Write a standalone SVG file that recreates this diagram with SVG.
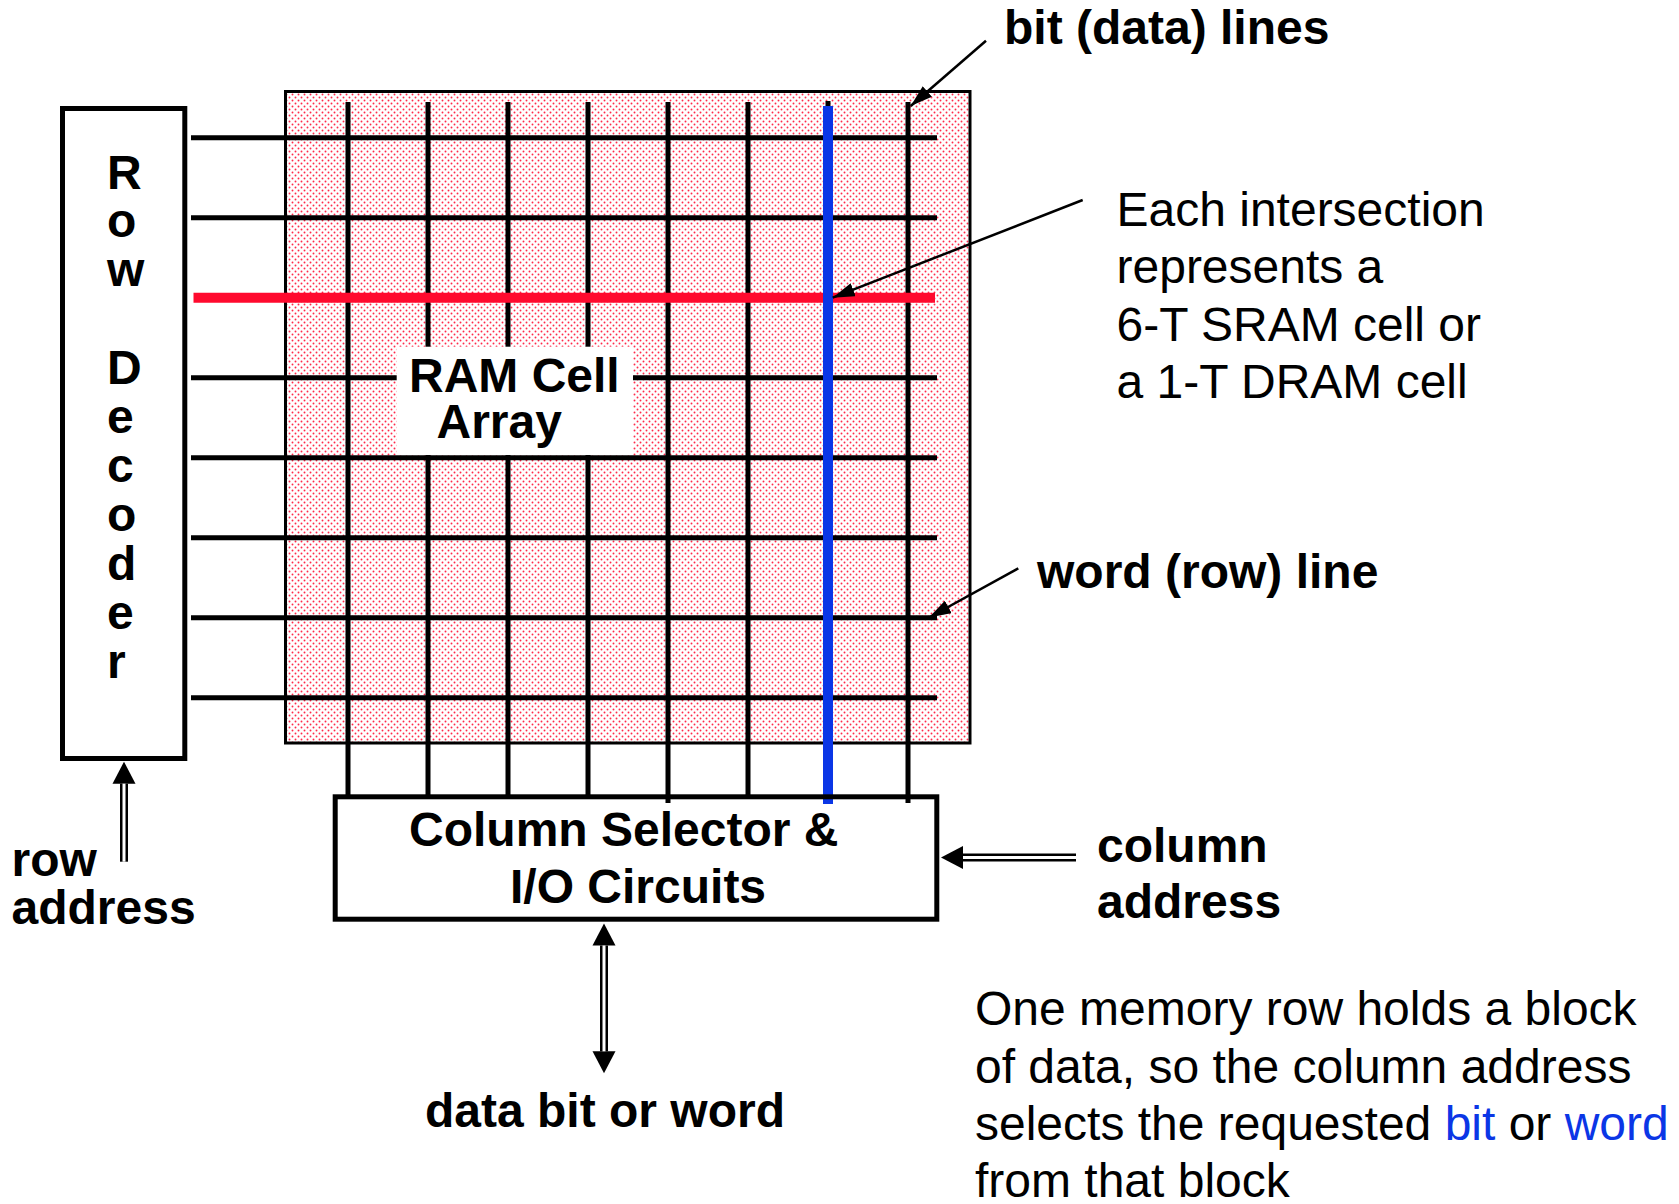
<svg xmlns="http://www.w3.org/2000/svg" width="1679" height="1204" viewBox="0 0 1679 1204">
  <style>
    .bold { font-family: "Liberation Sans", Arial, sans-serif; font-weight: bold; font-size: 48px; fill: #000; }
    .reg { font-family: "Liberation Sans", Arial, sans-serif; font-size: 48px; fill: #000; }
    .blue { fill: #0b36e6; }
    .box { fill: #fff; stroke: #000; stroke-width: 5; }
    .wline { stroke: #000; stroke-width: 5; fill: none; }
    .bline { stroke: #000; stroke-width: 5; fill: none; }
    .callout { stroke: #000; stroke-width: 2.5; fill: none; marker-end: url(#tip); }
    .shaft { stroke: #000; stroke-width: 8; fill: none; }
    .shaft-in { stroke: #fff; stroke-width: 3; fill: none; }
  </style>
  <defs>
    <!-- fine red dot screen used for the cell array background -->
    <pattern id="dots" width="6" height="6" patternUnits="userSpaceOnUse">
      <rect width="6" height="6" fill="#fff"/>
      <circle cx="1.5" cy="1.5" r="0.95" fill="#ff2a4a"/>
      <circle cx="4.5" cy="4.5" r="0.95" fill="#ff2a4a"/>
    </pattern>
    <marker id="tip" markerUnits="userSpaceOnUse" markerWidth="24" markerHeight="14" refX="22" refY="7" orient="auto">
      <path d="M0,0 L22,7 L0,14 z" fill="#000"/>
    </marker>
    <marker id="head" markerUnits="userSpaceOnUse" markerWidth="23" markerHeight="24" refX="0" refY="12" orient="auto-start-reverse">
      <path d="M0,0.5 L22,12 L0,23.5 z" fill="#000"/>
    </marker>
  </defs>

  <!-- cell array background -->
  <g id="cell-array">
    <rect x="285.5" y="91.5" width="684.5" height="651.5" fill="url(#dots)" stroke="#000" stroke-width="3"/>
  </g>

  <g id="connectors">
    <!-- word (row) lines -->
    <g id="word-lines">
      <line class="wline" x1="191" y1="137.7" x2="937" y2="137.7"/>
      <line class="wline" x1="191" y1="217.7" x2="937" y2="217.7"/>
      <line class="wline" x1="191" y1="377.7" x2="937" y2="377.7"/>
      <line class="wline" x1="191" y1="457.7" x2="937" y2="457.7"/>
      <line class="wline" x1="191" y1="537.7" x2="937" y2="537.7"/>
      <line class="wline" x1="191" y1="617.7" x2="937" y2="617.7"/>
      <line class="wline" x1="191" y1="697.7" x2="937" y2="697.7"/>
    </g>
    <!-- bit (data) lines -->
    <g id="bit-lines">
      <line class="bline" x1="348" y1="102" x2="348" y2="796"/>
      <line class="bline" x1="428" y1="102" x2="428" y2="796"/>
      <line class="bline" x1="508" y1="102" x2="508" y2="796"/>
      <line class="bline" x1="588" y1="102" x2="588" y2="796"/>
      <line class="bline" x1="668" y1="102" x2="668" y2="803"/>
      <line class="bline" x1="748" y1="102" x2="748" y2="796"/>
      <line class="bline" x1="828" y1="101" x2="828" y2="796"/>
      <line class="bline" x1="908" y1="102" x2="908" y2="803"/>
    </g>
    <!-- selected word line and bit line -->
    <line x1="193.5" y1="297.7" x2="935" y2="297.7" stroke="#ff0a2e" stroke-width="10"/>
    <line x1="828" y1="106" x2="828" y2="804" stroke="#0b36e6" stroke-width="10"/>

    <!-- callout arrows -->
    <line class="callout" x1="986" y1="40.7" x2="910.7" y2="106"/>
    <line class="callout" x1="1082.7" y1="200" x2="832.7" y2="297.7"/>
    <line class="callout" x1="1018.3" y1="568.3" x2="929" y2="617.5"/>

    <!-- row address input -->
    <line class="shaft" x1="124" y1="861.7" x2="124" y2="783.7" marker-end="url(#head)"/>
    <line class="shaft-in" x1="124" y1="861.7" x2="124" y2="783.7"/>
    <!-- column address input -->
    <line class="shaft" x1="1076" y1="857.5" x2="963" y2="857.5" marker-end="url(#head)"/>
    <line class="shaft-in" x1="1076" y1="857.5" x2="963" y2="857.5"/>
    <!-- data in / out -->
    <line class="shaft" x1="604" y1="945.5" x2="604" y2="1051.3" marker-start="url(#head)" marker-end="url(#head)"/>
    <line class="shaft-in" x1="604" y1="945.5" x2="604" y2="1051.3"/>
  </g>

  <!-- array label -->
  <g id="array-label">
    <rect x="396.7" y="346.7" width="236.3" height="108.3" fill="#fff"/>
    <text class="bold" x="409" y="391.7">RAM Cell</text>
    <text class="bold" x="436.5" y="438.3">Array</text>
  </g>

  <!-- row decoder -->
  <g id="row-decoder">
    <rect class="box" x="62.5" y="108.5" width="122.3" height="650"/>
    <text class="bold" x="107" y="188.5">R</text>
    <text class="bold" x="107" y="237.4">o</text>
    <text class="bold" x="107" y="286.4">w</text>
    <text class="bold" x="107" y="384.3">D</text>
    <text class="bold" x="107" y="433.3">e</text>
    <text class="bold" x="107" y="482.2">c</text>
    <text class="bold" x="107" y="531.2">o</text>
    <text class="bold" x="107" y="580.1">d</text>
    <text class="bold" x="107" y="629.1">e</text>
    <text class="bold" x="107" y="678">r</text>
  </g>

  <!-- column selector -->
  <g id="column-selector">
    <rect class="box" x="335.2" y="796.8" width="601.6" height="122.4" style="fill:none"/>
    <text class="bold" x="409" y="846">Column Selector &amp;</text>
    <text class="bold" x="510" y="903">I/O Circuits</text>
  </g>

  <!-- labels -->
  <g id="label-bit-lines">
    <text class="bold" x="1004" y="44">bit (data) lines</text>
  </g>
  <g id="label-intersection">
    <text class="reg" x="1116.5" y="225.5">Each intersection</text>
    <text class="reg" x="1116.5" y="283">represents a</text>
    <text class="reg" x="1116.5" y="340.5">6-T SRAM cell or</text>
    <text class="reg" x="1116.5" y="398">a 1-T DRAM cell</text>
  </g>
  <g id="label-word-line">
    <text class="bold" x="1037" y="588.3">word (row) line</text>
  </g>
  <g id="label-row-address">
    <text class="bold" x="11.5" y="876">row</text>
    <text class="bold" x="11.5" y="924">address</text>
  </g>
  <g id="label-column-address">
    <text class="bold" x="1097" y="861.7">column</text>
    <text class="bold" x="1097" y="918.3">address</text>
  </g>
  <g id="label-data">
    <text class="bold" x="425" y="1126.7">data bit or word</text>
  </g>
  <g id="note">
    <text class="reg" x="975" y="1025">One memory row holds a block</text>
    <text class="reg" x="975" y="1082.5">of data, so the column address</text>
    <text class="reg" x="975" y="1140">selects the requested <tspan class="blue">bit</tspan> or <tspan class="blue">word</tspan></text>
    <text class="reg" x="975" y="1196.5">from that block</text>
  </g>
</svg>
